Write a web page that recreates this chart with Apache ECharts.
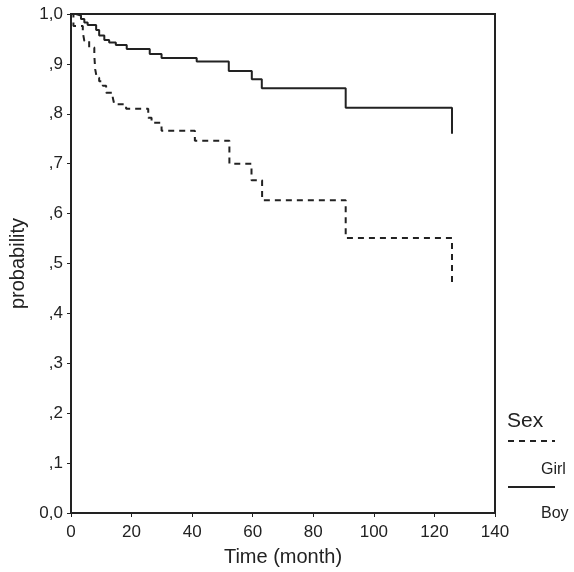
<!DOCTYPE html>
<html>
<head>
<meta charset="utf-8">
<script src="https://cdn.jsdelivr.net/npm/echarts@6/dist/echarts.min.js"></script>
<style>
  html, body { margin: 0; padding: 0; background: #fff; }
  #chart { width: 574px; height: 572px; }
</style>
</head>
<body>
<div id="chart"></div>
<script>
// Kaplan-Meier style curves, [month, probability]
const boyData = [
  [0, 1.0], [1.6, 0.997], [3.3, 0.99], [4.4, 0.983], [5.5, 0.978], [8.3, 0.968],
  [9.3, 0.957], [11, 0.948], [12.6, 0.943], [14.8, 0.938], [18.4, 0.93], [26, 0.92],
  [29.9, 0.912], [41.5, 0.905], [52.1, 0.886], [59.7, 0.869], [63, 0.851],
  [90.7, 0.812], [125.8, 0.76]
]
const girlData = [
  [0, 1.0], [0.8, 0.976], [3.9, 0.963], [4.4, 0.946], [6, 0.933], [7.7, 0.916],
  [8, 0.889], [8.5, 0.872], [9.3, 0.865], [10.5, 0.856], [11.6, 0.842], [13.8, 0.832],
  [14.3, 0.819], [18.2, 0.81], [25.5, 0.792], [26.6, 0.782], [29.9, 0.766],
  [40.9, 0.746], [52.3, 0.7], [59.6, 0.667], [63.1, 0.627], [90.7, 0.551],
  [125.8, 0.461]
]
const xTicks = [0, 20, 40, 60, 80, 100, 120, 140]
const yTickLabels = ['0,0', ',1', ',2', ',3', ',4', ',5', ',6', ',7', ',8', ',9', '1,0']

const font = 'Liberation Sans, Arial, sans-serif'
const ink = '#222'

const chart = echarts.init(document.getElementById('chart'))
chart.setOption({
  animation: false,
  backgroundColor: '#fff',
  grid: {
    left: 71, right: 79, top: 14, bottom: 55,
    show: true, borderColor: ink, borderWidth: 2, backgroundColor: 'transparent'
  },
  xAxis: {
    type: 'value',
    min: xTicks[0],
    max: xTicks[xTicks.length - 1],
    interval: 20,
    name: 'Time (month)',
    nameLocation: 'middle',
    nameGap: 34,
    nameTextStyle: { fontFamily: font, fontSize: 20, color: ink },
    axisLine: { show: true, lineStyle: { color: ink, width: 2 } },
    axisTick: { show: true, length: 4, lineStyle: { color: ink } },
    axisLabel: { fontFamily: font, fontSize: 17, color: ink, margin: 11 },
    splitLine: { show: false }
  },
  yAxis: {
    type: 'value',
    min: 0, max: 1, interval: 0.1,
    name: 'probability',
    nameLocation: 'middle',
    nameGap: 41,
    nameTextStyle: { fontFamily: font, fontSize: 20, color: ink },
    axisLine: { show: true, lineStyle: { color: ink, width: 2 } },
    axisTick: { show: true, length: 4, lineStyle: { color: ink } },
    axisLabel: {
      fontFamily: font, fontSize: 17, color: ink, margin: 8,
      formatter: (v) => yTickLabels[Math.round(v * 10)]
    },
    splitLine: { show: false }
  },
  series: [
    {
      name: 'Girl', type: 'line', step: 'end', showSymbol: false, data: girlData,
      lineStyle: { color: ink, width: 2, type: [6, 5] }
    },
    {
      name: 'Boy', type: 'line', step: 'end', showSymbol: false, data: boyData,
      lineStyle: { color: ink, width: 2 }
    }
  ],
  graphic: [
    { type: 'text', style: { x: 507, y: 421, text: 'Sex', font: '21px ' + font, fill: ink, verticalAlign: 'middle' } },
    { type: 'line', shape: { x1: 508, y1: 441, x2: 555, y2: 441 }, style: { stroke: ink, lineWidth: 2, lineDash: [6, 5] } },
    { type: 'text', style: { x: 541, y: 470, text: 'Girl', font: '16px ' + font, fill: ink, verticalAlign: 'middle' } },
    { type: 'line', shape: { x1: 508, y1: 487, x2: 555, y2: 487 }, style: { stroke: ink, lineWidth: 2 } },
    { type: 'text', style: { x: 541, y: 514, text: 'Boy', font: '16px ' + font, fill: ink, verticalAlign: 'middle' } }
  ]
})
</script>
</body>
</html>
